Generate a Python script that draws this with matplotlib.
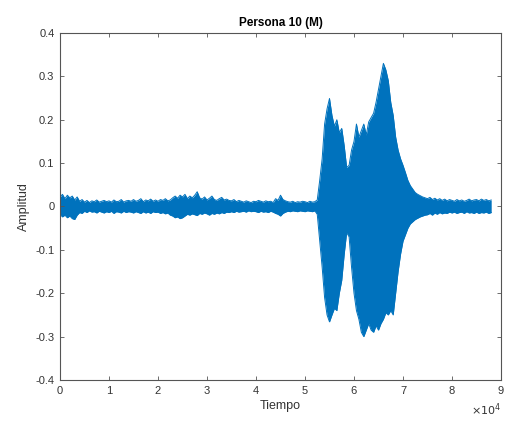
#!/usr/bin/env python3
"""Persona 10 (M) - speech waveform, MATLAB-style plot."""

import numpy as np
import matplotlib.pyplot as plt

plt.rcParams["font.family"] = ["Liberation Sans", "DejaVu Sans"]

# envelope of the waveform, one value per 500 samples (0 .. 88000)
sample_pos = list(range(0, 88500, 500))
upper_env = [
    0.022, 0.028, 0.018, 0.026, 0.020, 0.024, 0.015, 0.022, 0.012, 0.016,
    0.010, 0.014, 0.009, 0.013, 0.011, 0.015, 0.010, 0.012, 0.014, 0.011,
    0.013, 0.010, 0.015, 0.011, 0.012, 0.016, 0.010, 0.013, 0.014, 0.012,
    0.016, 0.012, 0.014, 0.018, 0.011, 0.015, 0.013, 0.017, 0.012, 0.015,
    0.012, 0.016, 0.014, 0.018, 0.013, 0.015, 0.020, 0.024, 0.019, 0.026,
    0.022, 0.028, 0.018, 0.024, 0.020, 0.026, 0.034, 0.020, 0.017, 0.022,
    0.015, 0.019, 0.024, 0.016, 0.014, 0.018, 0.021, 0.015, 0.017, 0.014,
    0.013, 0.016, 0.011, 0.014, 0.012, 0.010, 0.013, 0.011, 0.009, 0.012,
    0.011, 0.014, 0.012, 0.010, 0.013, 0.011, 0.012, 0.009, 0.018, 0.014,
    0.026, 0.016, 0.013, 0.011, 0.010, 0.012, 0.009, 0.011, 0.010, 0.012,
    0.011, 0.009, 0.012, 0.010, 0.011, 0.015, 0.060, 0.110, 0.190, 0.225,
    0.249, 0.210, 0.185, 0.200, 0.170, 0.180, 0.140, 0.090, 0.095, 0.130,
    0.150, 0.190, 0.160, 0.175, 0.190, 0.165, 0.195, 0.205, 0.215, 0.240,
    0.270, 0.300, 0.330, 0.315, 0.290, 0.240, 0.210, 0.160, 0.130, 0.110,
    0.095, 0.078, 0.060, 0.048, 0.040, 0.032, 0.028, 0.025, 0.022, 0.020,
    0.018, 0.021, 0.016, 0.019, 0.015, 0.018, 0.014, 0.017, 0.013, 0.016,
    0.014, 0.012, 0.016, 0.013, 0.015, 0.012, 0.014, 0.017, 0.013, 0.015,
    0.016, 0.013, 0.017, 0.014, 0.016, 0.013, 0.015,
]
lower_env = [
    -0.018, -0.024, -0.020, -0.026, -0.022, -0.028, -0.030, -0.020, -0.014, -0.016,
    -0.011, -0.014, -0.010, -0.013, -0.012, -0.015, -0.011, -0.013, -0.015, -0.012,
    -0.014, -0.011, -0.016, -0.012, -0.013, -0.015, -0.011, -0.014, -0.012, -0.013,
    -0.015, -0.012, -0.014, -0.016, -0.012, -0.015, -0.013, -0.016, -0.012, -0.014,
    -0.013, -0.016, -0.014, -0.017, -0.015, -0.020, -0.022, -0.026, -0.024, -0.028,
    -0.026, -0.022, -0.018, -0.020, -0.017, -0.019, -0.021, -0.016, -0.018, -0.015,
    -0.017, -0.020, -0.016, -0.018, -0.015, -0.017, -0.014, -0.016, -0.013, -0.014,
    -0.012, -0.014, -0.011, -0.013, -0.012, -0.011, -0.013, -0.010, -0.012, -0.011,
    -0.012, -0.014, -0.011, -0.013, -0.012, -0.014, -0.011, -0.013, -0.016, -0.018,
    -0.022, -0.016, -0.013, -0.011, -0.012, -0.010, -0.011, -0.012, -0.010, -0.011,
    -0.012, -0.010, -0.011, -0.012, -0.010, -0.018, -0.080, -0.140, -0.210, -0.250,
    -0.266, -0.250, -0.235, -0.240, -0.200, -0.170, -0.110, -0.060, -0.070, -0.140,
    -0.200, -0.240, -0.260, -0.290, -0.300, -0.285, -0.270, -0.285, -0.290, -0.275,
    -0.285, -0.270, -0.260, -0.245, -0.250, -0.240, -0.250, -0.200, -0.150, -0.110,
    -0.080, -0.065, -0.050, -0.040, -0.035, -0.030, -0.027, -0.024, -0.022, -0.020,
    -0.019, -0.016, -0.020, -0.015, -0.018, -0.014, -0.017, -0.015, -0.016, -0.013,
    -0.015, -0.013, -0.016, -0.014, -0.013, -0.016, -0.012, -0.015, -0.014, -0.016,
    -0.013, -0.016, -0.014, -0.015, -0.013, -0.016, -0.014,
]

x_ticks = [0, 10000, 20000, 30000, 40000, 50000, 60000, 70000, 80000, 90000]
x_labels = ["0", "1", "2", "3", "4", "5", "6", "7", "8", "9"]
y_ticks = [-0.4, -0.3, -0.2, -0.1, 0.0, 0.1, 0.2, 0.3, 0.4]
y_labels = ["-0.4", "-0.3", "-0.2", "-0.1", "0", "0.1", "0.2", "0.3", "0.4"]

line_color = "#0072BD"
axis_color = "#555555"
text_color = "#333333"

fig = plt.figure(figsize=(5.06, 4.25), dpi=100)
ax = fig.add_axes([0.1186, 0.1059, 0.8715, 0.8165])

x = np.array(sample_pos)
up = np.array(upper_env)
lo = np.array(lower_env)
ax.fill_between(x, lo, up, color=line_color, linewidth=0)
ax.plot(x, up, color=line_color, linewidth=0.7)
ax.plot(x, lo, color=line_color, linewidth=0.7)

ax.set_xlim(0, 90000)
ax.set_ylim(-0.4, 0.4)
ax.set_xticks(x_ticks)
ax.set_xticklabels(x_labels)
ax.set_yticks(y_ticks)
ax.set_yticklabels(y_labels)

ax.tick_params(direction="in", length=3, width=0.6, colors=axis_color,
               labelcolor=text_color, labelsize=8, top=True, right=True,
               pad=4)
for sp in ax.spines.values():
    sp.set_color(axis_color)
    sp.set_linewidth(0.8)

ax.set_title("Persona 10 (M)", fontsize=8.5, fontweight="bold", pad=5)
ax.set_xlabel("Tiempo", fontsize=9, color=text_color, labelpad=3)
ax.set_ylabel("Amplitud", fontsize=9, color=text_color, labelpad=4)
ax.text(1.0, -0.085, r"$\times10^4$", transform=ax.transAxes, ha="right",
        va="center", fontsize=8, color=text_color)

fig.savefig("out.png", dpi=100)
